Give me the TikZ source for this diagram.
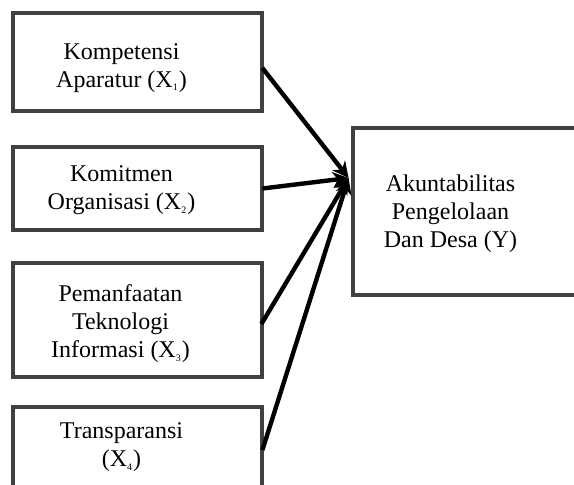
\documentclass[tikz,border=0pt]{standalone}
\usepackage{fontspec}
\setmainfont{Liberation Serif}
\usetikzlibrary{calc,arrows.meta}
\definecolor{boxgray}{HTML}{404040}
\newcommand{\sbx}[1]{\textsubscript{\tiny #1}}
\tikzset{>={Stealth[length=8pt,width=8pt]},
  box/.style={draw=boxgray,line width=2.4pt,rectangle,inner sep=0pt,fill=white},
  txt/.style={align=center,font=\fontsize{12}{14}\selectfont,inner sep=0pt},
  arr/.style={->,line width=2.2pt,black}}

\begin{document}
\begin{tikzpicture}[x=0.5pt,y=-0.5pt]
\clip (0,0) rectangle (574,484);
\useasboundingbox (0,0) rectangle (574,484);
% independent variables
\node[box,minimum width=124.5pt,minimum height=49pt] (x1) at (137.5,62) {};
\node[txt] (x1t) at ($(x1)+(-16,6)$) {Kompetensi\\Aparatur (X\sbx{1})};
\node[box,minimum width=124.5pt,minimum height=41.5pt] (x2) at (137.5,188.5) {};
\node[txt] (x2t) at ($(x2)+(-16,2)$) {Komitmen\\Organisasi (X\sbx{2})};
\node[box,minimum width=124.5pt,minimum height=57pt] (x3) at (137.5,320) {};
\node[txt] (x3t) at ($(x3)+(-17,4)$) {Pemanfaatan\\Teknologi\\Informasi (X\sbx{3})};
\node[box,minimum width=124.5pt,minimum height=43pt] (x4) at (137.5,450) {};
\node[txt] (x4t) at ($(x4)+(-16,-3)$) {Transparansi\\(X\sbx{4})};
% dependent variable
\node[box,minimum width=123.5pt,minimum height=83.5pt] (y) at (476.5,211.5) {};
\node[txt] (yt) at ($(y)+(-26,2)$) {Akuntabilitas\\Pengelolaan\\Dan Desa (Y)};
\coordinate (yin) at ($(y.west)+(-2,-33.5)$);
% paths
\draw[arr] ($(x1.east)+(-2,6)$) -- (yin);
\draw[arr] ($(x2.east)+(-2,0)$) -- (yin);
\draw[arr] ($(x3.east)+(-3,4)$) -- (yin);
\draw[arr] ($(x4.east)+(-2,0)$) -- (yin);
\end{tikzpicture}
\end{document}
